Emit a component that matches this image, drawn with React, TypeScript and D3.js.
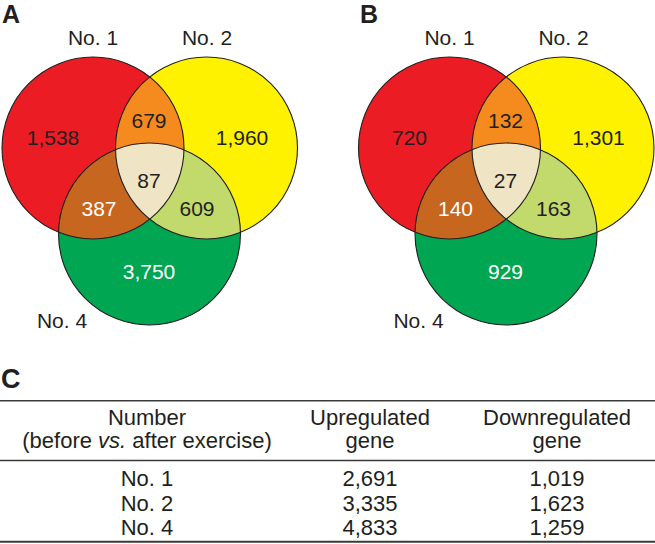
import React, { useEffect, useRef } from "react";
import * as d3 from "d3";

// ---- Data ----
const setNames = ["No. 1", "No. 2", "No. 4"];
// Region order: only1, only2, only4, 1∩2, 1∩4, 2∩4, 1∩2∩4
const regionKeys = ["1", "2", "4", "12", "14", "24", "124"];
const upregulatedRegions = [1538, 1960, 3750, 679, 387, 609, 87];
const downregulatedRegions = [720, 1301, 929, 132, 140, 163, 27];
const panelLetters = ["A", "B"];

const tableHeaders = [
  ["Number", "(before vs. after exercise)"],
  ["Upregulated", "gene"],
  ["Downregulated", "gene"],
];
const tableRows = ["No. 1", "No. 2", "No. 4"];
const upregulatedTotals = [2691, 3335, 4833];
const downregulatedTotals = [1019, 1623, 1259];

// ---- Styles ----
const FONT = "'Liberation Sans', Arial, Helvetica, sans-serif";
const INK = "#231F20";
const setColors = ["#EC1C24", "#FFF200", "#00A651"];
const regionColors: Record<string, string> = {
  "12": "#F58A1F",
  "14": "#C6661F",
  "24": "#C2D96C",
  "124": "#EFE4C4",
};
const regionTextColor: Record<string, string> = {
  "1": INK, "2": INK, "4": "#FFFFFF", "12": INK, "14": "#FFFFFF", "24": INK, "124": INK,
};

export default function App() {
  const ref = useRef<SVGSVGElement | null>(null);

  useEffect(() => {
    const svg = d3.select(ref.current);
    svg.selectAll("*").remove();
    const fmt = d3.format(",");

    const r = 91;
    const centers = [
      { x: 93, y: 148 },
      { x: 206.5, y: 148 },
      { x: 149.5, y: 234 },
    ];
    const labelPos = [
      { x: 93, y: 45 },
      { x: 207, y: 45 },
      { x: 62, y: 328 },
    ];
    const regionPos: Record<string, { x: number; y: number }> = {
      "1": { x: 53, y: 145 },
      "2": { x: 242, y: 145 },
      "4": { x: 149, y: 279 },
      "12": { x: 149, y: 128 },
      "14": { x: 99, y: 216 },
      "24": { x: 197, y: 216 },
      "124": { x: 149, y: 188 },
    };

    const panelX = d3.scaleOrdinal<string, number>().domain(panelLetters).range([0, 356.5]);
    const panelData = [upregulatedRegions, downregulatedRegions];

    const defs = svg.append("defs");

    panelLetters.forEach((letter, pi) => {
      const ox = panelX(letter);
      const ids = setNames.map((_, i) => `clip-${letter}-${i}`);
      centers.forEach((c, i) => {
        defs
          .append("clipPath")
          .attr("id", ids[i])
          .append("circle")
          .attr("cx", c.x + ox)
          .attr("cy", c.y)
          .attr("r", r);
      });
      const root = svg.append("g");

      centers.forEach((c, i) => {
        root
          .append("circle")
          .attr("cx", c.x + ox)
          .attr("cy", c.y)
          .attr("r", r)
          .attr("fill", setColors[i]);
      });
      const pair = (a: number, b: number, key: string) => {
        root
          .append("g")
          .attr("clip-path", `url(#${ids[a]})`)
          .append("circle")
          .attr("cx", centers[b].x + ox)
          .attr("cy", centers[b].y)
          .attr("r", r)
          .attr("fill", regionColors[key]);
      };
      pair(0, 1, "12");
      pair(0, 2, "14");
      pair(1, 2, "24");
      root
        .append("g")
        .attr("clip-path", `url(#${ids[0]})`)
        .append("g")
        .attr("clip-path", `url(#${ids[1]})`)
        .append("circle")
        .attr("cx", centers[2].x + ox)
        .attr("cy", centers[2].y)
        .attr("r", r)
        .attr("fill", regionColors["124"]);
      centers.forEach((c) => {
        root
          .append("circle")
          .attr("cx", c.x + ox)
          .attr("cy", c.y)
          .attr("r", r)
          .attr("fill", "none")
          .attr("stroke", INK)
          .attr("stroke-width", 1.1);
      });

      const g = svg.append("g").attr("transform", `translate(${ox},0)`);
      regionKeys.forEach((k, ri) => {
        g.append("text")
          .attr("x", regionPos[k].x)
          .attr("y", regionPos[k].y)
          .attr("text-anchor", "middle")
          .attr("font-family", FONT)
          .attr("font-size", 21)
          .attr("fill", regionTextColor[k])
          .text(fmt(panelData[pi][ri]));
      });
      setNames.forEach((n, i) => {
        g.append("text")
          .attr("x", labelPos[i].x)
          .attr("y", labelPos[i].y)
          .attr("text-anchor", "middle")
          .attr("font-family", FONT)
          .attr("font-size", 21)
          .attr("fill", INK)
          .text(n);
      });
      g.append("text")
        .attr("x", 2 + (pi === 1 ? 1.5 : 0))
        .attr("y", 23)
        .attr("font-family", FONT)
        .attr("font-weight", "bold")
        .attr("font-size", 25)
        .attr("fill", INK)
        .text(letter);
    });

    // ---- Table C ----
    const t = svg.append("g");
    t.append("text")
      .attr("x", 1)
      .attr("y", 388)
      .attr("font-family", FONT)
      .attr("font-weight", "bold")
      .attr("font-size", 27)
      .attr("fill", INK)
      .text("C");

    const colX = d3.scaleOrdinal<number, number>().domain([0, 1, 2]).range([147, 370, 557]);
    const rowY = d3.scaleLinear().domain([0, 2]).range([486, 535]);

    [400.7, 460.5, 541.8].forEach((y, i) => {
      t.append("line")
        .attr("x1", 0)
        .attr("x2", 655)
        .attr("y1", y)
        .attr("y2", y)
        .attr("stroke", "#3a3a3a")
        .attr("stroke-width", i === 2 ? 2 : 1.6);
    });

    tableHeaders.forEach((lines, ci) => {
      lines.forEach((line, li) => {
        const txt = t
          .append("text")
          .attr("x", colX(ci))
          .attr("y", 425 + li * 23)
          .attr("text-anchor", "middle")
          .attr("font-family", FONT)
          .attr("font-size", 22)
          .attr("fill", INK);
        if (line.includes(" vs. ")) {
          const [a, b] = line.split(" vs. ");
          txt.append("tspan").text(a + " ");
          txt.append("tspan").attr("font-style", "italic").text("vs.");
          txt.append("tspan").text(" " + b);
        } else {
          txt.text(line);
        }
      });
    });

    const cols = [tableRows, upregulatedTotals.map(fmt), downregulatedTotals.map(fmt)];
    cols.forEach((col, ci) => {
      col.forEach((v, ri) => {
        t.append("text")
          .attr("x", colX(ci))
          .attr("y", rowY(ri))
          .attr("text-anchor", "middle")
          .attr("font-family", FONT)
          .attr("font-size", 22)
          .attr("fill", INK)
          .text(v);
      });
    });
  }, []);

  return (
    <svg
      ref={ref}
      width={655}
      height={544}
      style={{ position: "absolute", left: 0, top: 0, background: "#fff" }}
    />
  );
}
